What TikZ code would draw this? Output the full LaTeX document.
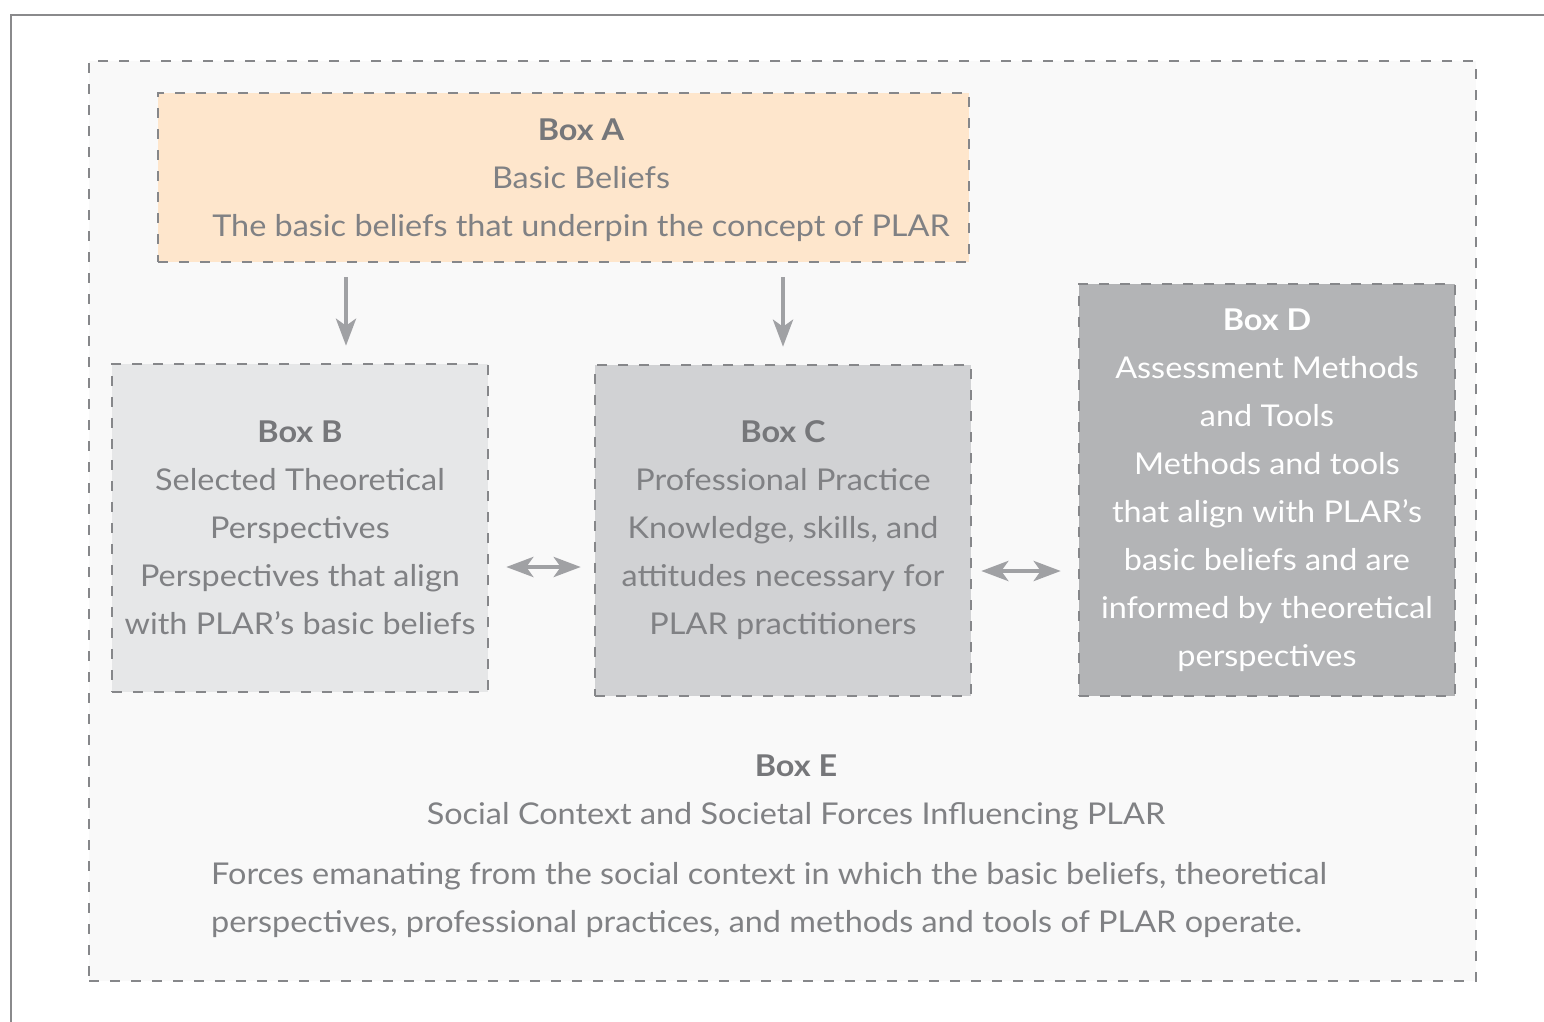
\documentclass[tikz,border=0pt]{standalone}
\usepackage{fontspec}
\setmainfont[FakeStretch=1.08]{Lato}
\usetikzlibrary{arrows.meta,calc}
\definecolor{framegray}{HTML}{8A8A8C}
\definecolor{dashgray}{HTML}{86878A}
\definecolor{fillE}{HTML}{F9F9F9}
\definecolor{fillA}{HTML}{FEE6CC}
\definecolor{fillB}{HTML}{E6E7E8}
\definecolor{fillC}{HTML}{D1D2D4}
\definecolor{fillD}{HTML}{B3B4B6}
\definecolor{txtgray}{HTML}{808184}
\definecolor{titlegray}{HTML}{76777A}
\definecolor{arrowgray}{HTML}{A0A1A4}
\begin{document}
\begin{tikzpicture}[x=1pt,y=-1pt,
  box/.style={draw=dashgray, line width=2.5pt, dash pattern=on 10pt off 11pt, inner sep=0pt},
  txt/.style={text=txtgray, align=center, font=\fontsize{30}{48}\selectfont, inner sep=0pt},
  arr/.style={draw=arrowgray, line width=4.5pt, -{Stealth[length=27pt,width=20pt,inset=7pt]}},
  darr/.style={draw=arrowgray, line width=4.5pt, {Stealth[length=27pt,width=20pt,inset=7pt]}-{Stealth[length=27pt,width=20pt,inset=7pt]}}
]
\useasboundingbox (0,0) rectangle (1544,1022);
\fill[white] (0,0) rectangle (1544,1022);
\draw[framegray, line width=2.5pt] (11,1022) -- (11,15) -- (1544,15);

\node[box, fill=fillE, minimum width=1387pt, minimum height=920pt] (boxE) at (782.5,521) {};
\node[box, fill=fillA, minimum width=811pt, minimum height=169pt] (boxA) at (563.5,177.5) {};
\node[txt] (textA) at (581,180) {{\bfseries\color{titlegray}Box A}\\Basic Beliefs\\The basic beliefs that underpin the concept of PLAR};

\node[box, fill=fillB, minimum width=376pt, minimum height=328pt, txt] (boxB) at (300,528)
  {{\bfseries\color{titlegray}Box B}\\Selected Theoretical\\Perspectives\\Perspectives that align\\with PLAR’s basic beliefs};
\node[box, fill=fillC, minimum width=376pt, minimum height=331pt, txt] (boxC) at (783,530.5)
  {{\bfseries\color{titlegray}Box C}\\Professional Practice\\Knowledge, skills, and\\attitudes necessary for\\PLAR practitioners};
\node[box, fill=fillD, minimum width=376pt, minimum height=412pt, txt, text=white] (boxD) at (1267,490)
  {{\bfseries Box D}\\Assessment Methods\\and Tools\\Methods and tools\\that align with PLAR’s\\basic beliefs and are\\informed by theoretical\\perspectives};

\node[txt] (textE) at (796,792) {{\bfseries\color{titlegray}Box E}\\Social Context and Societal Forces Influencing PLAR};
\node[txt, align=left, anchor=west] (textE2) at (211,900) {Forces emanating from the social context in which the basic beliefs, theoretical\\perspectives, professional practices, and methods and tools of PLAR operate.};

\coordinate (xAB) at (346,0);
\coordinate (yBC) at (0,567);
\coordinate (yCD) at (0,571);
\draw[arr, shorten <=14pt, shorten >=17pt] (boxA.south -| xAB) -- (boxB.north -| xAB);
\draw[arr, shorten <=14pt, shorten >=17pt] (boxA.south -| boxC.north) -- (boxC.north);
\draw[darr, shorten <=17pt, shorten >=13pt] (boxB.east |- yBC) -- (boxC.west |- yBC);
\draw[darr, shorten <=9pt, shorten >=17pt] (boxC.east |- yCD) -- (boxD.west |- yCD);
\end{tikzpicture}
\end{document}
